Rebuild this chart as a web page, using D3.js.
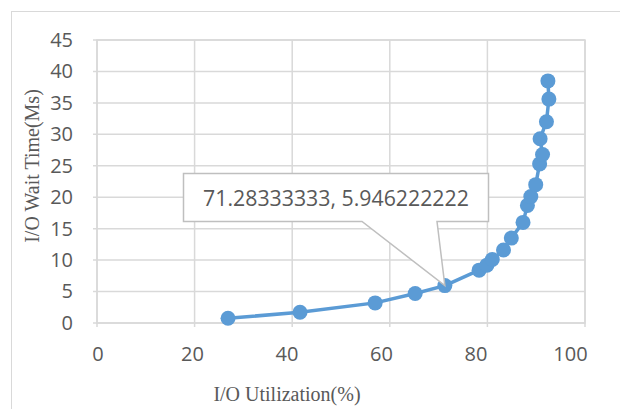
<!DOCTYPE html>
<html><head><meta charset="utf-8">
<script src="https://cdn.jsdelivr.net/npm/d3@7"></script>
<style>html,body{margin:0;padding:0;background:#fff;}svg{display:block;}</style>
</head><body>
<svg id="chart" width="620" height="409"></svg>
<script>
const utilization = [26.85, 41.6, 57.0, 65.2, 71.28333333, 78.3, 79.9, 81.0, 83.3, 84.9, 87.3, 88.2, 88.9, 89.9, 90.7, 91.3, 90.8, 92.1, 92.6, 92.4];
const waitTime    = [0.75, 1.7, 3.2, 4.7, 5.946222222, 8.4, 9.2, 10.1, 11.6, 13.5, 16.0, 18.7, 20.1, 22.0, 25.3, 26.8, 29.3, 32.0, 35.6, 38.5];
const xTicks = [0, 20, 40, 60, 80, 100];
const yTicks = [0, 5, 10, 15, 20, 25, 30, 35, 40, 45];
const xTitle = "I/O Utilization(%)";
const yTitle = "I/O Wait Time(Ms)";
const labelIndex = 4;
const labelText = "71.28333333, 5.946222222";

const svg = d3.select("#chart");
const L = 97, R = 585, T = 40, B = 323;
const x = d3.scaleLinear().domain([0, 100]).range([L, R]);
const xLab = d3.scaleLinear().domain([0, 100]).range([97.5, 570]);
const y = d3.scaleLinear().domain([0, 45]).range([B, T]);
const grey = "#d9d9d9", txt = "#595959", blue = "#5b9bd5";

// outer chart border
svg.append("rect").attr("x", 11.5).attr("y", 11.5).attr("width", 640).attr("height", 420)
  .attr("fill", "none").attr("stroke", grey).attr("stroke-width", 1);

// gridlines
svg.append("g").selectAll("line").data(yTicks).join("line")
  .attr("x1", L - 4).attr("x2", R).attr("y1", d => y(d)).attr("y2", d => y(d))
  .attr("stroke", grey).attr("stroke-width", 1.5);
svg.append("g").selectAll("line").data(xTicks).join("line")
  .attr("x1", d => x(d)).attr("x2", d => x(d)).attr("y1", T).attr("y2", B + 4)
  .attr("stroke", grey).attr("stroke-width", 1.5);
svg.append("rect").attr("x", L).attr("y", T).attr("width", R - L).attr("height", B - T)
  .attr("fill", "none").attr("stroke", grey).attr("stroke-width", 1.5);

// axes (labels only)
const yAxis = svg.append("g").attr("transform", `translate(${L},0)`)
  .call(d3.axisLeft(y).tickValues(yTicks).tickSize(0).tickPadding(24));
const xAxis = svg.append("g").attr("transform", `translate(0,${B})`)
  .call(d3.axisBottom(xLab).tickValues(xTicks).tickSize(0).tickPadding(24));
[yAxis, xAxis].forEach(a => {
  a.select(".domain").remove();
  a.selectAll("text").attr("fill", txt).style("font-family", "'Open Sans', sans-serif").style("font-size", "20px");
});

// titles
svg.append("text").attr("x", 287).attr("y", 401).attr("text-anchor", "middle")
  .attr("fill", txt).style("font-family", "'Liberation Serif', serif").style("font-size", "20px").text(xTitle);
svg.append("text").attr("transform", "translate(39,166) rotate(-90)").attr("text-anchor", "middle")
  .attr("fill", txt).style("font-family", "'Liberation Serif', serif").style("font-size", "20px").text(yTitle);

// line + markers
const pts = utilization.map((u, i) => [u, waitTime[i]]);
svg.append("path").datum(pts)
  .attr("d", d3.line().x(d => x(d[0])).y(d => y(d[1])))
  .attr("fill", "none").attr("stroke", blue).attr("stroke-width", 3.5).attr("stroke-linejoin", "round");
svg.append("g").selectAll("circle").data(pts).join("circle")
  .attr("cx", d => x(d[0])).attr("cy", d => y(d[1])).attr("r", 7.5).attr("fill", blue);

// data callout
const px = x(utilization[labelIndex]), py = y(waitTime[labelIndex]);
const bx0 = 183.5, by0 = 173.5, bx1 = 488.5, by1 = 221.5;
svg.append("path")
  .attr("d", `M${bx0},${by0} H${bx1} V${by1} H437 L${px},${py} L362,${by1} H${bx0} Z`)
  .attr("fill", "#fff").attr("stroke", "#bfbfbf").attr("stroke-width", 1.5);
svg.append("text").attr("x", (bx0 + bx1) / 2).attr("y", 206).attr("text-anchor", "middle")
  .attr("fill", txt).style("font-family", "'Open Sans', sans-serif").style("font-size", "21.3px").text(labelText);
</script>
</body></html>
